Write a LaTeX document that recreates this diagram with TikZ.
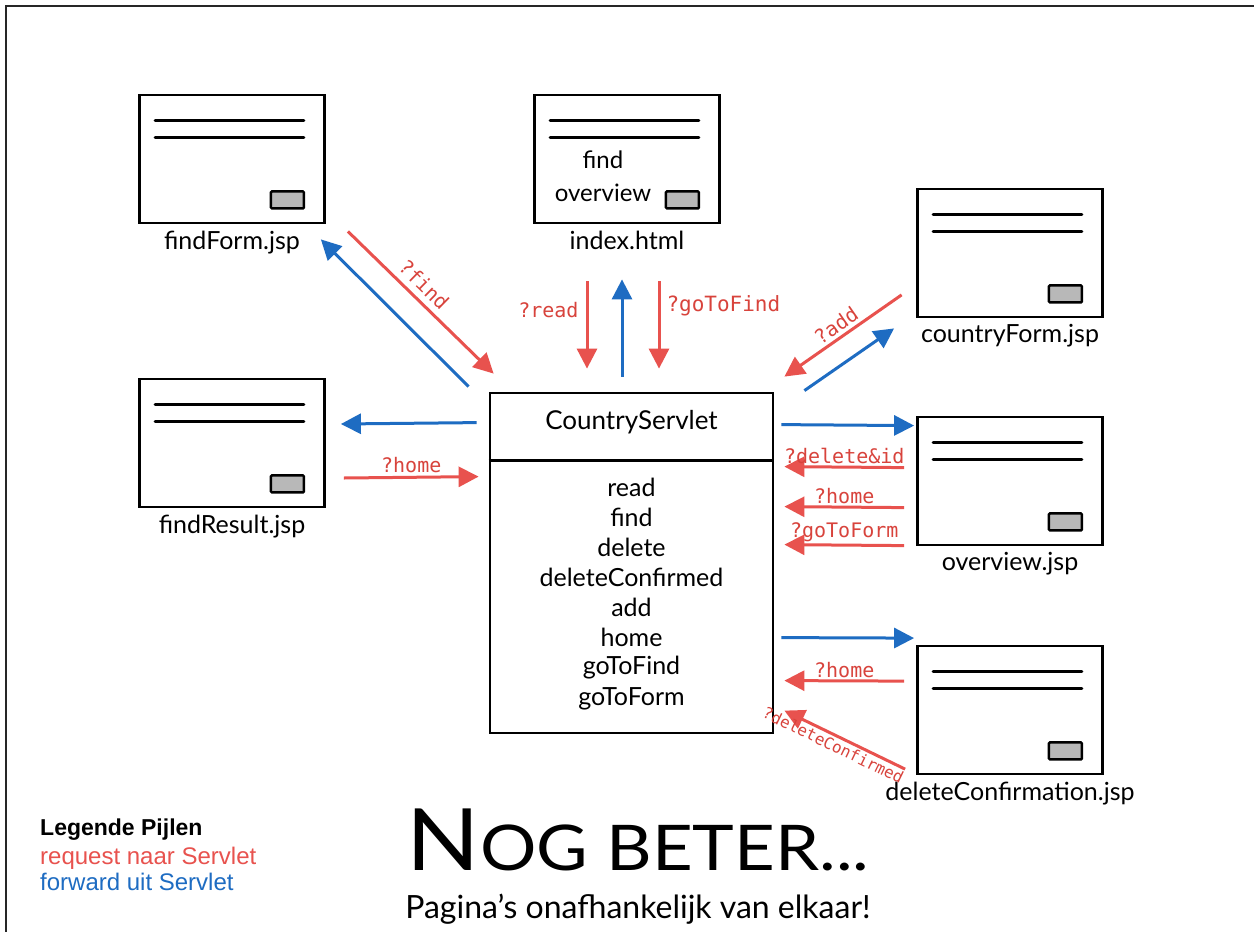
\documentclass[tikz,border=0pt]{standalone}
\usepackage{fontspec}
\setmainfont{Lato}
\newfontfamily\monofont{DejaVu Sans Mono}
\newfontfamily\legendfont{Liberation Sans}
\usetikzlibrary{calc,arrows.meta}
\definecolor{reqred}{HTML}{E8524E}
\definecolor{reqtext}{HTML}{D8433C}
\definecolor{fwdblue}{HTML}{1E6CC2}
\definecolor{btngray}{HTML}{B8B8B8}
\tikzset{
  pagebox/.style={draw=black, line width=2.8pt, minimum width=185pt, minimum height=128pt, inner sep=0pt, fill=white},
  pagelabel/.style={font=\fontsize{25}{28}\selectfont, inner sep=0pt},
  textline/.style={line width=2.8pt, line cap=round},
  btn/.style={draw, line width=2.4pt, fill=btngray, rounded corners=1pt},
  req/.style={draw=reqred, line width=3pt, -{Triangle[length=20pt,width=20pt]}},
  fwd/.style={draw=fwdblue, line width=3pt, -{Triangle[length=20pt,width=20pt]}},
  reqlabel/.style={text=reqtext, font=\monofont\fontsize{20}{22}\selectfont, inner sep=1pt},
  method/.style={font=\fontsize{25}{27}\selectfont, inner sep=0pt},
  legend/.style={font=\legendfont\fontsize{24}{26}\selectfont, inner sep=0pt, anchor=base west}
}
\newcommand\webpage[4]{%
  \node[pagebox] (#1) at (#2,#3) {};
  \draw[textline] ($(#1.north west)+(17,27)$) -- ($(#1.north east)+(-22,27)$);
  \draw[textline] ($(#1.north west)+(17,44)$) -- ($(#1.north east)+(-22,44)$);
  \draw[btn] ($(#1.south east)+(-55,-33)$) rectangle ($(#1.south east)+(-22,-16)$);
  \node[pagelabel, anchor=north] (#1-label) at ($(#1.south)+(0,6)$) {#4};
}
\begin{document}
\begin{tikzpicture}[x=1pt,y=-1pt]
\useasboundingbox[fill=white] (0,0) rectangle (1254,932);
\draw[line width=2.5pt, black!85] (6,932) -- (6,6) -- (1254,6);

\webpage{findForm}{232}{159}{findForm.jsp}
\webpage{index}{627}{159}{index.html}
\webpage{countryForm}{1010}{253}{countryForm.jsp}
\webpage{findResult}{232}{443}{findResult.jsp}
\webpage{overview}{1010}{481}{overview.jsp}
\webpage{deleteConfirmation}{1010}{710}{deleteConfirmation.jsp}

\node[method, font=\fontsize{24}{26}\selectfont] (index-find) at (603,160) {find};
\node[method, font=\fontsize{24}{26}\selectfont] (index-overview) at (603,193) {overview};

% servlet
\node[draw, line width=2.8pt, minimum width=283pt, minimum height=340pt, inner sep=0pt] (servlet) at (631.5,563) {};
\draw[line width=2.8pt] ($(servlet.north west)+(0,69)$) -- ($(servlet.north east)+(0,69)$);
\node[method, font=\fontsize{26}{28}\selectfont] (servlet-title) at ($(servlet.north)+(0,31)$) {CountryServlet};
\node[method] (m1) at ($(servlet.north)+(0,96)$) {read};
\node[method] (m2) at ($(servlet.north)+(0,126)$) {find};
\node[method] (m3) at ($(servlet.north)+(0,156)$) {delete};
\node[method] (m4) at ($(servlet.north)+(0,186)$) {deleteConfirmed};
\node[method] (m5) at ($(servlet.north)+(0,216)$) {add};
\node[method] (m6) at ($(servlet.north)+(0,246)$) {home};
\node[method] (m7) at ($(servlet.north)+(0,276)$) {goToFind};
\node[method] (m8) at ($(servlet.north)+(0,307)$) {goToForm};

% findForm
\draw[req] ($(findForm.south east)+(22,7)$) -- node[reqlabel, above=5pt, sloped, pos=0.45]{?find} ($(servlet.north west)+(5,-18)$);
\draw[fwd] ($(servlet.north west)+(-20,-5)$) -- ($(findForm.south east)+(-5,15)$);

% index
\draw[req] ($(index.south)+(-40,57)$) -- node[reqlabel, left=6pt, pos=0.33]{?read} ($(servlet.north)+(-44.5,-23)$);
\draw[fwd] ($(servlet.north)+(-9.5,-15)$) -- ($(index.south)+(-5,55)$);
\draw[req] ($(index.south)+(32,57)$) -- node[reqlabel, right=5pt, pos=0.28, font=\monofont\fontsize{21}{22}\selectfont]{?goToFind} ($(servlet.north)+(27.5,-23)$);

% countryForm
\draw[req] ($(countryForm.south west)+(-14.5,-23.5)$) -- node[reqlabel, above=2pt, sloped, pos=0.5]{?add} ($(servlet.north east)+(10,-15)$);
\draw[fwd] ($(servlet.north east)+(30,-1)$) -- ($(countryForm.south west)+(-22,10)$);

% findResult
\draw[fwd] ($(servlet.north west)+(-12,31)$) -- ($(findResult.east)+(15,-19)$);
\draw[req] ($(findResult.east)+(18,35)$) -- node[reqlabel, above=2pt]{?home} ($(servlet.north west)+(-10,85)$);

% overview
\draw[fwd] ($(servlet.north east)+(7,33)$) -- ($(overview.north west)+(-2,10)$);
\draw[req] ($(overview.north west)+(-12,52)$) -- node[reqlabel, above=1pt]{?delete\&id} ($(servlet.north east)+(10,75)$);
\draw[req] ($(overview.north west)+(-12,92)$) -- node[reqlabel, above=1pt]{?home} ($(servlet.north east)+(10,115)$);
\draw[req] ($(overview.north west)+(-12,130)$) -- node[reqlabel, above=1pt]{?goToForm} ($(servlet.north east)+(10,153)$);

% deleteConfirmation
\draw[fwd] ($(servlet.north east)+(7,246)$) -- ($(deleteConfirmation.north west)+(-2,-6.5)$);
\draw[req] ($(deleteConfirmation.north west)+(-12,36.5)$) -- node[reqlabel, above=1pt]{?home} ($(servlet.north east)+(10,289)$);
\draw[req] ($(deleteConfirmation.north west)+(-11,124.5)$) -- node[reqlabel, font=\monofont\fontsize{16}{18}\selectfont, below=1pt, sloped, pos=0.56]{?deleteConfirmed} ($(servlet.north east)+(10,319)$);

% title
\node[inner sep=0pt, anchor=base] (title) at (638,870) {\scalebox{1.12}[1.0]{\fontsize{86}{90}\selectfont N\fontsize{63}{70}\selectfont OG BETER...}};
\node[inner sep=0pt, anchor=base] (subtitle) at (638,918) {\fontsize{32}{36}\selectfont Pagina’s onafhankelijk van elkaar!};

% legend
\node[legend, font=\legendfont\bfseries\fontsize{23}{26}\selectfont] (leg1) at (40,835) {Legende Pijlen};
\node[legend, text=reqred] (leg2) at (40,864) {request naar Servlet};
\node[legend, text=fwdblue] (leg3) at (40,890) {forward uit Servlet};
\end{tikzpicture}
\end{document}
